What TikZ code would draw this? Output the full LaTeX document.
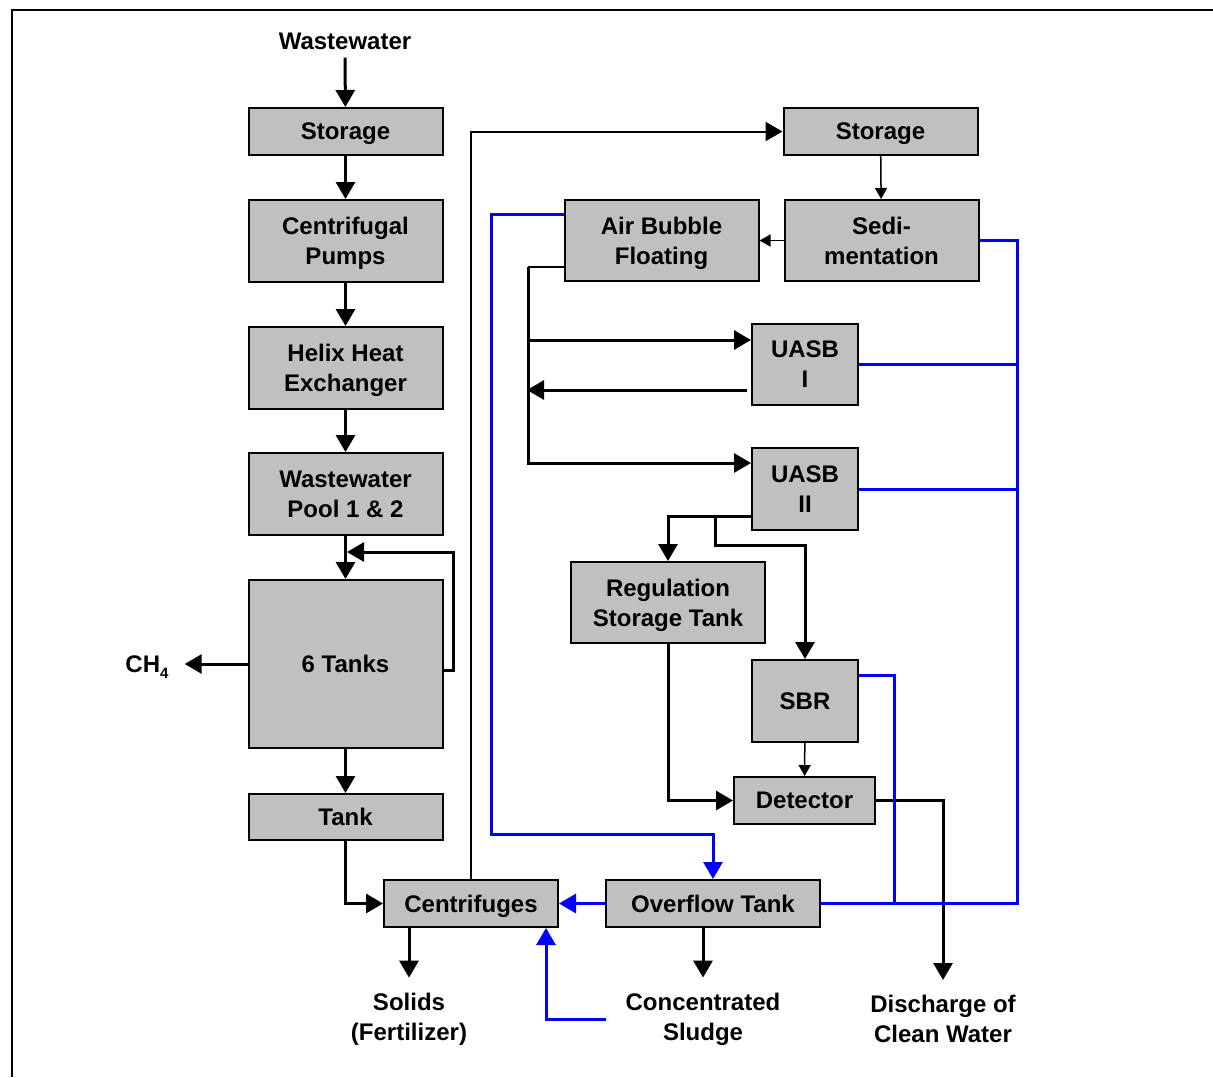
\documentclass[tikz,border=0pt]{standalone}
\usepackage{fontspec}
\setmainfont{Liberation Sans}
\usetikzlibrary{arrows.meta}
\definecolor{boxgray}{RGB}{192,192,192}
\definecolor{flowblue}{RGB}{0,0,255}
\begin{document}
\begin{tikzpicture}[x=1pt,y=-1pt,>={Triangle[length=17pt,width=19pt]},
  font=\fontsize{24}{30}\selectfont\bfseries,
  unit/.style={draw,line width=2pt,fill=boxgray,inner sep=0pt,align=center,text depth=0pt},
  lbl/.style={align=center,inner sep=2pt},
  flow/.style={line width=3pt,->},
  pipe/.style={line width=2.5pt},
  thinflow/.style={line width=1.5pt,-{Triangle[length=11pt,width=12pt]}},
  bluepipe/.style={line width=3pt,flowblue},
  blueflow/.style={line width=3pt,flowblue,->}]
 \useasboundingbox (0,0) rectangle (1213,1077);
 \draw[line width=1.5pt] (12,1077) -- (12,10) -- (1213,10);
 \begin{scope}
  \node[lbl] (wwin) at (345,41) {Wastewater};
  \node[unit,minimum width=194pt,minimum height=47pt] (store1) at (345.5,131.5) {Storage};
  \node[unit,minimum width=194pt,minimum height=82pt] (pumps) at (345.5,241) {Centrifugal\\Pumps};
  \node[unit,minimum width=194pt,minimum height=82pt] (helix) at (345.5,368) {Helix Heat\\Exchanger};
  \node[unit,minimum width=194pt,minimum height=82pt] (pool) at (345.5,494) {Wastewater\\Pool 1 \& 2};
  \node[unit,minimum width=194pt,minimum height=168pt] (tanks) at (345.5,664) {6 Tanks};
  \node[unit,minimum width=194pt,minimum height=46pt] (tank) at (345.5,817) {Tank};
  \node[lbl,text depth=0pt] (ch4) at (147,664) {CH\raisebox{-6pt}{\fontsize{15}{15}\selectfont 4}};
  \coordinate (loop) at (347,552);
  \draw[flow,shorten <=6pt] (wwin) -- (store1);
  \draw[flow] (store1) -- (pumps);
  \draw[flow] (pumps) -- (helix);
  \draw[flow] (helix) -- (pool);
  \draw[flow] (pool) -- (tanks);
  \draw[flow] ([yshift=-6pt]tanks.east) -| (453,552) -- (loop);
  \draw[flow,shorten >=14pt] (tanks.west) -- (tanks.west -| ch4.east);
  \draw[flow] (tanks) -- (tank);
 \end{scope}
 \begin{scope}
  \node[unit,minimum width=174pt,minimum height=47pt] (centri) at (471,903.5) {Centrifuges};
  \node[unit,minimum width=214pt,minimum height=47pt] (overflow) at (713,903.5) {Overflow Tank};
  \node[unit,minimum width=194pt,minimum height=47pt] (store2) at (880.5,131.5) {Storage};
  \node[unit,minimum width=194pt,minimum height=81pt] (sedi) at (881.5,240.5) {Sedi-\\mentation};
  \node[unit,minimum width=194pt,minimum height=81pt] (air) at (661.5,240.5) {Air Bubble\\Floating};
  \node[unit,minimum width=106pt,minimum height=81pt] (uasbA) at (805,364.5) {UASB\\I};
  \node[unit,minimum width=106pt,minimum height=82pt] (uasbB) at (805,489) {UASB\\II};
  \node[unit,minimum width=194pt,minimum height=81pt] (reg) at (668,602.5) {Regulation\\Storage Tank};
  \node[unit,minimum width=106pt,minimum height=82pt] (sbr) at (805,701) {SBR};
  \node[unit,minimum width=141pt,minimum height=47pt] (detect) at (804.5,800.5) {Detector};
  \node[lbl] (solids) at (409,1019) {Solids\\(Fertilizer)};
  \node[lbl] (sludge) at (703,1019) {Concentrated\\Sludge};
  \node[lbl] (discharge) at (943,1019) {Discharge of\\Clean Water};
  \coordinate (bus) at (528,267);
  \coordinate (fork) at (715,516);
  \draw[flow] (tank) |- (centri);
  \draw[line width=2pt,->] (centri) |- (store2);
  \draw[thinflow] (store2) -- (sedi);
  \draw[thinflow] (sedi) -- (air);
  \draw[pipe] ([yshift=-26.5pt]air.west) -- (bus);
  \draw[flow] (bus) |- ([yshift=24.5pt]uasbA.west);
  \draw[flow] ([yshift=-25.5pt,xshift=-4pt]uasbA.west) -- ++(-220,0);
  \draw[flow] (bus) |- ([yshift=26pt]uasbB.west);
  \draw[flow] ([yshift=-27pt]uasbB.west) -| (reg.north);
  \draw[flow] (fork) -- ++(0,29) -| (sbr.north);
  \draw[thinflow] (sbr) -- (detect);
  \draw[flow] (reg) |- (detect);
  \draw[flow,shorten >=13pt] (detect) -| (discharge.north);
  \draw[flow,shorten >=13pt] (solids |- centri.south) -- (solids);
  \draw[flow,shorten >=13pt] (sludge |- overflow.south) -- (sludge);
  \draw[blueflow] (overflow) -- (centri);
  \draw[blueflow] ([xshift=-17pt]sludge.west) -| ([xshift=-13pt]centri.south east);
  \draw[blueflow] ([yshift=26.5pt]air.west) -- ++(-72,0) -- ++(0,620) -| (overflow.north);
  \draw[bluepipe] (sedi.east) -- ++(38,0) |- (overflow.east);
  \draw[bluepipe] (uasbA.east) -- ++(158,0);
  \draw[bluepipe] (uasbB.east) -- ++(158,0);
  \draw[bluepipe] ([yshift=26pt]sbr.east) -- ++(35,0) |- (overflow.east);
 \end{scope}
\end{tikzpicture}
\end{document}
